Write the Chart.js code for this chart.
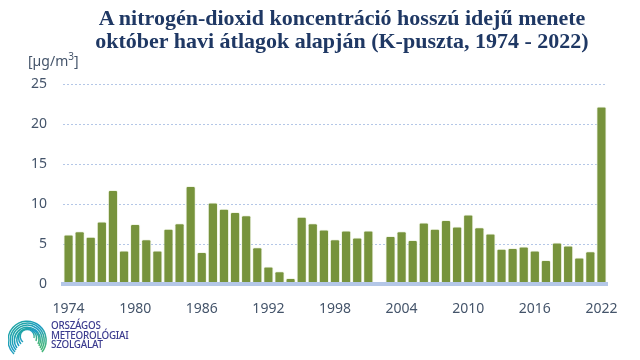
<!DOCTYPE html>
<html>
<head>
<meta charset="utf-8">
<script src="https://cdn.jsdelivr.net/npm/chart.js@4/dist/chart.umd.min.js"></script>
<style>
  html, body { margin:0; padding:0; background:#fff; }
  #wrap { position:relative; width:640px; height:360px; overflow:hidden; }
  #c { position:absolute; left:0; top:0; }
  #title { position:absolute; left:0; width:684px; top:6px; text-align:center;
    font-family:"Liberation Serif","DejaVu Serif",serif; font-weight:bold; font-size:22px;
    line-height:23px; color:#1F3864; white-space:nowrap; }
  #unit { position:absolute; left:28px; top:51px; font-family:"Noto Sans",sans-serif; font-size:14px; color:#44546A; }
  #unit sup { font-size:10px; vertical-align:6px; line-height:0; }
  #logo { position:absolute; left:8px; top:316px; }
  #logotext { position:absolute; left:51px; top:321px; font-family:"Noto Sans",sans-serif; font-size:9.8px;
    font-weight:500; line-height:9.6px; color:#3B3B8F; letter-spacing:-0.2px; }
</style>
</head>
<body>
<div id="wrap">
  <canvas id="c" width="640" height="360"></canvas>
  <div id="title">A nitrogén-dioxid koncentráció hosszú idejű menete<br>október havi átlagok alapján (K-puszta, 1974 - 2022)</div>
  <div id="unit">[µg/m<sup>3</sup>]</div>
  <svg id="logo" width="40" height="44" viewBox="0 0 40 44">
    <defs>
      <linearGradient id="lg" x1="0" y1="0" x2="1" y2="1">
        <stop offset="0" stop-color="#22A99A"/>
        <stop offset="0.5" stop-color="#1E9CC4"/>
        <stop offset="1" stop-color="#4DBB6A"/>
      </linearGradient>
    </defs>
    <g fill="none" stroke="url(#lg)" stroke-width="1.5">
      <path d="M 6 38 A 19 19 0 1 1 34 36"/>
      <path d="M 7 36 A 17 17 0 1 1 33 34"/>
      <path d="M 8 34 A 15 15 0 1 1 32 32"/>
      <path d="M 9 32 A 13 13 0 1 1 31 30"/>
      <path d="M 11 30 A 11 11 0 1 1 30 28"/>
      <path d="M 13 28 A 9 9 0 1 1 28 25"/>
      <path d="M 15 26 A 7 7 0 1 1 26 22"/>
    </g>
  </svg>
  <div id="logotext">ORSZÁGOS<br>METEOROLÓGIAI<br>SZOLGÁLAT</div>
</div>
<script>
const years = [1974,1975,1976,1977,1978,1979,1980,1981,1982,1983,1984,1985,1986,1987,1988,1989,1990,1991,1992,1993,1994,1995,1996,1997,1998,1999,2000,2001,2002,2003,2004,2005,2006,2007,2008,2009,2010,2011,2012,2013,2014,2015,2016,2017,2018,2019,2020,2021,2022];
const no2Values = [6.2,6.6,5.9,7.8,11.75,4.2,7.5,5.6,4.2,6.9,7.6,12.25,4.0,10.2,9.4,9.0,8.6,4.6,2.2,1.6,0.75,8.4,7.6,6.8,5.6,6.7,5.8,6.7,null,6.0,6.6,5.5,7.7,6.9,8.0,7.2,8.7,7.1,6.3,4.4,4.5,4.7,4.2,3.0,5.2,4.8,3.3,4.1,22.2];
const yTicks = [0,5,10,15,20,25];
const xTickYears = [1974,1980,1986,1992,1998,2004,2010,2016,2022];

const labelColor = '#44546A';
new Chart(document.getElementById('c'), {
  type: 'bar',
  data: {
    labels: years.map(String),
    datasets: [{
      data: no2Values,
      backgroundColor: '#77933C',
      borderColor: 'rgba(236,242,222,0.7)',
      borderWidth: 1,
      borderSkipped: 'bottom',
      borderRadius: {topLeft: 2, topRight: 2, bottomLeft: 0, bottomRight: 0},
      barPercentage: 0.92,
      categoryPercentage: 1.0
    }]
  },
  options: {
    responsive: false,
    animation: false,
    devicePixelRatio: 1,
    layout: { padding: { left: 0, right: 33, top: 84, bottom: 0 } },
    plugins: { legend: { display: false }, tooltip: { enabled: false }, title: { display: false } },
    scales: {
      x: {
        grid: { display: false },
        border: { display: true, color: '#B4C7E7', width: 4, z: 1 },
        ticks: {
          autoSkip: false, maxRotation: 0, minRotation: 0, padding: 9,
          color: labelColor, font: { family: 'Noto Sans', size: 14 },
          callback: function(v, i) { const y = years[i]; return xTickYears.includes(y) ? String(y) : ''; }
        },
        afterFit: s => { s.height = 76; }
      },
      y: {
        min: 0, max: 25,
        afterBuildTicks: s => { s.ticks = yTicks.map(v => ({ value: v })); },
        grid: {
          drawTicks: false, lineWidth: 1,
          color: ctx => (ctx.tick && ctx.tick.value === 0) ? 'rgba(0,0,0,0)' : '#B4C7E7'
        },
        border: { display: false, dash: [2, 2] },
        ticks: { padding: 16, color: labelColor, font: { family: 'Noto Sans', size: 14 } },
        afterFit: s => { s.width = 63; }
      }
    }
  }
});
</script>
</body>
</html>
